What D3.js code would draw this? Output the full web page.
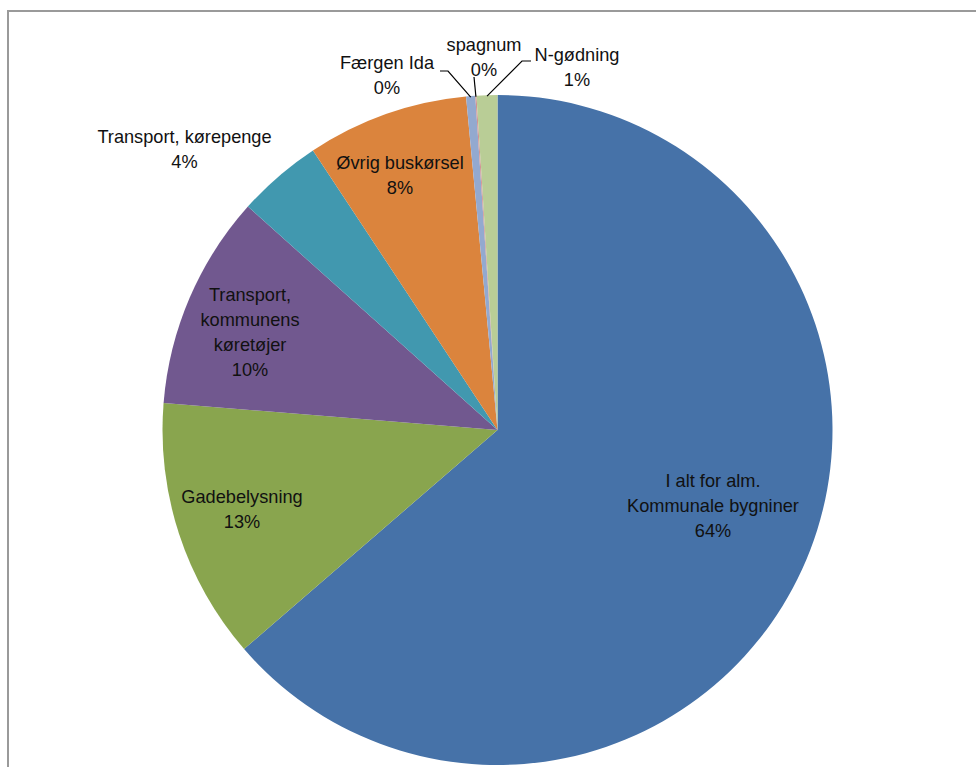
<!DOCTYPE html>
<html>
<head>
<meta charset="utf-8">
<script src="https://cdn.jsdelivr.net/npm/d3@7"></script>
<style>
  html, body { margin: 0; padding: 0; background: #fff; }
  svg { display: block; }
  text { font-family: "Liberation Sans", Arial, sans-serif; font-size: 18.2px; fill: #111; }
</style>
</head>
<body>
<svg id="chart" width="976" height="767"></svg>
<script>
// ---- data ----
const categories = [
  "I alt for alm. Kommunale bygniner",
  "Gadebelysning",
  "Transport, kommunens køretøjer",
  "Transport, kørepenge",
  "Øvrig buskørsel",
  "Færgen Ida",
  "spagnum",
  "N-gødning"
];
const values = [63.75, 12.65, 10.35, 4.1, 7.8, 0.44, 0.06, 1.0];
const labelLines = [
  ["I alt for alm.", "Kommunale bygniner"],
  ["Gadebelysning"],
  ["Transport,", "kommunens", "køretøjer"],
  ["Transport, kørepenge"],
  ["Øvrig buskørsel"],
  ["Færgen Ida"],
  ["spagnum"],
  ["N-gødning"]
];
const colors = ["#4672A8", "#89A54E", "#71588F", "#4198AF", "#DB843D", "#93A9CF", "#D19392", "#B9CD96"];

// ---- layout (label block centres and leader elbows, relative to pie centre) ----
const labelOffsets = [
  [215.5, 76], [-255.5, 79], [-247.5, -98], [-313, -281],
  [-97.5, -255], [-110.5, -354.5], [-13.5, -373], [79.5, -363]
];
const leaderElbows = {
  5: [[-49.5, -359], [-57.5, -359]],
  6: [[-23.5, -353]],
  7: [[24.5, -369], [33.5, -369]]
};

const svg = d3.select("#chart");
const cx = 497.5, cy = 430, R = 335;
const lineH = 25;

// frame
svg.append("rect")
  .attr("x", 8).attr("y", 11)
  .attr("width", 1000).attr("height", 800)
  .attr("fill", "none")
  .attr("stroke", "#9a9a9a")
  .attr("stroke-width", 2);

const total = d3.sum(values);
const pie = d3.pie().sort(null).value(d => d);
const arcs = pie(values);
const arc = d3.arc().innerRadius(0).outerRadius(R);

const g = svg.append("g").attr("transform", `translate(${cx},${cy})`);

g.selectAll("path.slice")
  .data(arcs)
  .join("path")
  .attr("class", "slice")
  .attr("d", arc)
  .attr("fill", (d, i) => colors[i]);

const pct = d3.format(".0%");

// leaders
Object.keys(leaderElbows).forEach(k => {
  const i = +k;
  const a = (arcs[i].startAngle + arcs[i].endAngle) / 2;
  const pts = [[Math.sin(a) * (R - 1), -Math.cos(a) * (R - 1)]].concat(leaderElbows[k]);
  g.append("path")
    .attr("d", d3.line()(pts))
    .attr("fill", "none")
    .attr("stroke", "#000")
    .attr("stroke-width", 1.2);
});

// labels
arcs.forEach((d, i) => {
  const lines = labelLines[i].concat([pct(values[i] / total)]);
  const [ox, oy] = labelOffsets[i];
  const n = lines.length;
  const t = g.append("text").attr("text-anchor", "middle");
  lines.forEach((s, j) => {
    t.append("tspan")
      .attr("x", ox)
      .attr("y", oy + (j - (n - 1) / 2) * lineH + 6)
      .text(s);
  });
});
</script>
</body>
</html>
